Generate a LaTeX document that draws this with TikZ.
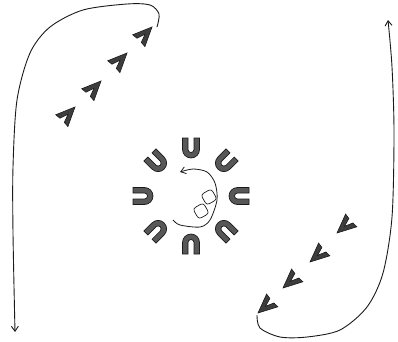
\documentclass[tikz,border=0pt]{standalone}
\usepackage{tikz}
\usetikzlibrary{arrows.meta,calc}
\definecolor{FlowInk}{HTML}{1A1A1A}
\definecolor{MagnetGrey}{HTML}{575757}

\begin{document}
\begin{tikzpicture}[
  x=1pt, y=1pt,
  flowline/.style={line width=0.9pt, color=FlowInk, -{Straight Barb[length=5pt,width=7pt]}},
  magnet/.pic={
    \draw[fill=MagnetGrey, draw=FlowInk, line width=0.7pt]
      (-8.5,10) -- (-8.5,-1.5) arc[start angle=180, end angle=360, radius=8.5] -- (8.5,10)
      -- (3,10) -- (3,-1.5) arc[start angle=0, end angle=-180, radius=3] -- (-3,10) -- cycle;
  },
  chevron/.pic={
    \draw[fill=MagnetGrey!70!black, draw=FlowInk, line width=0.6pt, line join=miter]
      (0,0) -- (-19,8.5) -- (-18.5,3) -- (-10,0) -- (-18.5,-3) -- (-19,-8.5) -- cycle;
  }
]
\useasboundingbox (0,0) rectangle (398,341);

% ring of magnets
\coordinate (ring) at (191,145);
\foreach \a in {0,45,...,315}
  \pic[rotate=\a-90] at ($(ring)+(\a:48)$) {magnet};

% particles
\draw[line width=0.6pt, rounded corners=3pt, fill=white, rotate around={30:(209,144)}]
  (203,138) rectangle (215,150);
\draw[line width=0.6pt, rounded corners=3pt, fill=white, rotate around={30:(201,130)}]
  (195,124) rectangle (207,136);

% rotation inside the ring
\draw[flowline, line width=0.8pt] plot[smooth] coordinates
  {(173,121) (180,116) (200,114) (210,121) (217,141) (215,158) (207,169) (193,172) (180,169)};

% inflow chevrons
\foreach \p in {(152,314),(127,288),(101,260),(75,234)}
  \pic[rotate=46] at \p {chevron};
% outflow chevrons
\foreach \p in {(337,108),(310,79),(283,53),(258,28)}
  \pic[rotate=221.5] at \p {chevron};

% return paths
\draw[flowline] plot[smooth] coordinates
  {(157,314) (159,327) (150,336) (127,337) (83,331) (50,314) (30,288) (17,241) (13,174) (13,108) (15,9)};
\draw[flowline] plot[smooth] coordinates
  {(257,26) (260,13) (280,4) (307,4) (340,11) (367,34) (383,68) (392,124) (394,208) (392,274) (388,321)};
\end{tikzpicture}
\end{document}
